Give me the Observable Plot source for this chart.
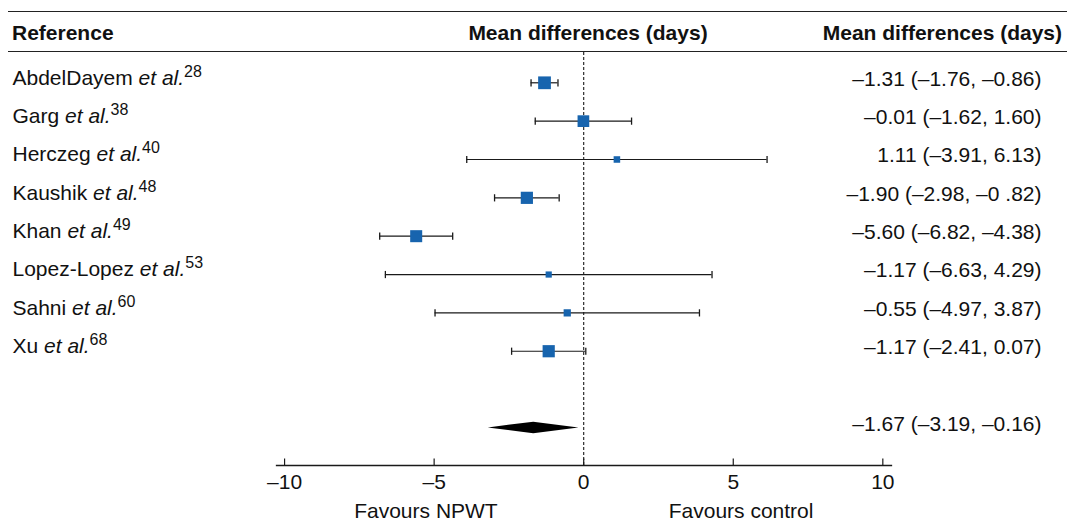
<!DOCTYPE html>
<html>
<head>
<meta charset="utf-8">
<script src="https://cdn.jsdelivr.net/npm/d3@7"></script>
<script src="https://cdn.jsdelivr.net/npm/@observablehq/plot@0.6"></script>
<style>
  body { margin: 0; background: #fff; font-family: "Liberation Sans", Arial, sans-serif; color: #111; }
  #wrap { position: relative; width: 1067px; height: 522px; overflow: hidden; }
  #header { position: relative; height: 52px; }
  .hl { position: absolute; left: 8px; right: 0; height: 0; border-top: 1.5px solid #222; }
  .ht { position: absolute; font-weight: bold; font-size: 21px; line-height: 1; top: 22px; white-space: nowrap; }
  #chart svg { display: block; }
</style>
</head>
<body>
<div id="wrap">
  <div id="header">
    <div class="hl" style="top:11px"></div>
    <div class="hl" style="top:51px"></div>
    <span class="ht" style="left:12px">Reference</span>
    <span class="ht" style="left:588px;transform:translateX(-50%)">Mean differences (days)</span>
    <span class="ht" style="right:5px">Mean differences (days)</span>
  </div>
  <div id="chart"></div>
</div>
<script>
// ---- data ----
const authors   = ["AbdelDayem", "Garg", "Herczeg", "Kaushik", "Khan", "Lopez-Lopez", "Sahni", "Xu"];
const refs      = [28, 38, 40, 48, 49, 53, 60, 68];
const estimates = [-1.31, -0.01, 1.11, -1.90, -5.60, -1.17, -0.55, -1.17];
const lower     = [-1.76, -1.62, -3.91, -2.98, -6.82, -6.63, -4.97, -2.41];
const upper     = [-0.86, 1.60, 6.13, -0.82, -4.38, 4.29, 3.87, 0.07];
const weights   = [18.6, 15.6, 4.9, 17.0, 16.5, 4.4, 6.0, 17.0];
const ciLabels  = [
  "–1.31 (–1.76, –0.86)",
  "–0.01 (–1.62, 1.60)",
  "1.11 (–3.91, 6.13)",
  "–1.90 (–2.98, –0 .82)",
  "–5.60 (–6.82, –4.38)",
  "–1.17 (–6.63, 4.29)",
  "–0.55 (–4.97, 3.87)",
  "–1.17 (–2.41, 0.07)"
];
const pooledEstimate = -1.67, pooledLower = -3.19, pooledUpper = -0.16;
const pooledLabel = "–1.67 (–3.19, –0.16)";
const xTicks = [-10, -5, 0, 5, 10];
const favourLabels = ["Favours NPWT", "Favours control"];

// ---- tables ----
const studies = authors.map((a, i) => ({
  author: a, ref: refs[i], row: i,
  estimate: estimates[i], lower: lower[i], upper: upper[i],
  weight: weights[i], label: ciLabels[i]
}));
const pooledRow = studies.length + 1; // one blank row before the summary
const rightLabels = [...studies.map(d => ({row: d.row, label: d.label})), {row: pooledRow, label: pooledLabel}];
const halfH = 0.15; // diamond half-height in row units
const diamond = [
  {x: pooledLower, y1: pooledRow, y2: pooledRow},
  {x: pooledEstimate, y1: pooledRow - halfH, y2: pooledRow + halfH},
  {x: pooledUpper, y1: pooledRow, y2: pooledRow}
];

const fmt = d => d < 0 ? "–" + (-d) : String(d);
const capSymbol  = {draw(ctx) { ctx.moveTo(0, -3.6); ctx.lineTo(0, 3.6); }};
const tickSymbol = {draw(ctx) { ctx.moveTo(0, 0); ctx.lineTo(0, -7); }};
const ink = "#1a1a1a";

const chart = Plot.plot({
  width: 1067, height: 470,
  marginLeft: 276, marginRight: 176, marginTop: 0, marginBottom: 57,
  x: {domain: [-10.27, 10.29], axis: null},
  y: {domain: [-0.79, 9.98], reverse: true, axis: null},
  r: {domain: [0, d3.max(weights)], range: [0, 7.2]},
  style: {fontFamily: "'Liberation Sans', Arial, sans-serif", fontSize: "21px", color: "#111", background: "white", overflow: "visible"},
  marks: [
    Plot.ruleX([0], {stroke: ink, strokeWidth: 1.1, strokeDasharray: "3,2"}),
    Plot.frame({anchor: "bottom", stroke: ink, strokeWidth: 1.3}),
    Plot.dot(xTicks, {x: d => d, frameAnchor: "bottom", symbol: tickSymbol, fill: "none", stroke: ink, strokeWidth: 1.2}),
    Plot.text(xTicks, {x: d => d, text: fmt, frameAnchor: "bottom", lineAnchor: "top", dy: 9, fill: "#111"}),
    Plot.text([{x: 0, t: favourLabels[0]}], {x: "x", text: "t", frameAnchor: "bottom", textAnchor: "end", dx: -86, dy: 52, fill: "#111"}),
    Plot.text([{x: 0, t: favourLabels[1]}], {x: "x", text: "t", frameAnchor: "bottom", textAnchor: "start", dx: 85, dy: 52, fill: "#111"}),
    Plot.ruleY(studies, {y: "row", x1: "lower", x2: "upper", stroke: ink, strokeWidth: 1.2}),
    Plot.dot(studies, {x: "lower", y: "row", symbol: capSymbol, fill: "none", stroke: ink, strokeWidth: 1.3}),
    Plot.dot(studies, {x: "upper", y: "row", symbol: capSymbol, fill: "none", stroke: ink, strokeWidth: 1.3}),
    Plot.dot(studies, {x: "estimate", y: "row", r: "weight", symbol: "square", fill: "#1764ae", stroke: null}),
    Plot.areaY(diamond, {x: "x", y1: "y1", y2: "y2", fill: "#000"}),
    Plot.text(studies, {y: "row", text: "author", frameAnchor: "left", textAnchor: "start", dx: -264, dy: -5, fill: "#111", ariaDescription: "study names"}),
    Plot.text(rightLabels, {y: "row", text: "label", frameAnchor: "right", textAnchor: "end", dx: 150, dy: -4, fill: "#111"})
  ]
});
document.getElementById("chart").appendChild(chart);

// italic "et al." and superscript reference numbers
d3.select(chart).selectAll('g[aria-description="study names"] text').each(function (_, i) {
  const t = d3.select(this);
  t.text(null);
  t.append("tspan").text(authors[i] + " ");
  t.append("tspan").attr("font-style", "italic").text("et al.");
  t.append("tspan").attr("font-size", "16px").attr("dy", "-8").text(refs[i]);
});
</script>
</body>
</html>
